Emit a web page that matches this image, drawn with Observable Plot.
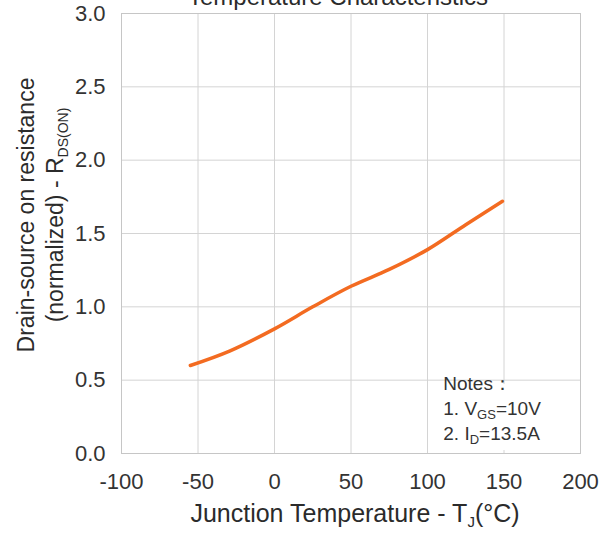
<!DOCTYPE html>
<html>
<head>
<meta charset="utf-8">
<script src="https://cdn.jsdelivr.net/npm/d3@7"></script>
<script src="https://cdn.jsdelivr.net/npm/@observablehq/plot@0.6"></script>
<style>
  html, body { margin: 0; padding: 0; background: #fff; }
  #chart { width: 613px; height: 536px; overflow: hidden; }
</style>
</head>
<body>
<div id="chart"></div>
<script>
// Junction temperature (°C) and normalized R_DS(ON)
const tempC   = [-55, -29, 0, 25, 50, 75, 100, 125, 149];
const rdsNorm = [0.60, 0.70, 0.85, 1.00, 1.14, 1.255, 1.39, 1.56, 1.72];

const xTicks = [-100, -50, 0, 50, 100, 150, 200];
const yTicks = [0, 0.5, 1.0, 1.5, 2.0, 2.5, 3.0];

const titleText = "Temperature Characteristics";
const xLabelMain = "Junction Temperature - T";
const xLabelSub = "J";
const xLabelEnd = "(°C)";
const yLabelLine1 = "Drain-source on resistance";
const yLabelLine2 = "(normalized) - R";
const yLabelSub = "DS(ON)";
const notesHead = "Notes：";
const notes = [
  {pre: "1. V", sub: "GS", post: "=10V"},
  {pre: "2. I", sub: "D", post: "=13.5A"}
];

const rows = tempC.map((t, i) => ({t, r: rdsNorm[i]}));
const FONT = "'Liberation Sans', Arial, sans-serif";

const plot = Plot.plot({
  width: 613,
  height: 536,
  marginTop: 13,
  marginLeft: 121,
  marginRight: 33,
  marginBottom: 83,
  style: {fontFamily: FONT, fontSize: "22px", color: "#333", background: "#fff", overflow: "visible"},
  x: {domain: [-100, 200], label: null},
  y: {domain: [0, 3], label: null},
  marks: [
    Plot.gridX(xTicks, {stroke: "#d4d4d4", strokeOpacity: 1}),
    Plot.gridY(yTicks, {stroke: "#d4d4d4", strokeOpacity: 1}),
    Plot.rect([0], {x1: 104, x2: 199, y1: 0.02, y2: 0.47, fill: "white"}),
    Plot.frame({stroke: "#c6c6c6"}),
    Plot.axisX(xTicks, {tickSize: 0, tickPadding: 20, fontSize: 22, label: null, tickFormat: d => String(d)}),
    Plot.axisY(yTicks, {tickSize: 0, tickPadding: 16, fontSize: 22, label: null, tickFormat: d => d.toFixed(1)}),
    Plot.line(rows, {x: "t", y: "r", stroke: "#f36b21", strokeWidth: 3.5, curve: "catmull-rom"})
  ]
});

document.getElementById("chart").appendChild(plot);

const svg = d3.select(plot);
const sx = plot.scale("x"), sy = plot.scale("y");
const ink = "#2b2b2b";

// Title (cut off at top edge as in reference)
svg.append("text")
  .attr("x", 338).attr("y", 5)
  .attr("text-anchor", "middle")
  .attr("font-family", FONT).attr("font-size", 24).attr("fill", ink)
  .text(titleText);

// X axis label
const xl = svg.append("text")
  .attr("x", 355).attr("y", 522)
  .attr("text-anchor", "middle")
  .attr("font-family", FONT).attr("font-size", 25).attr("fill", ink);
xl.append("tspan").text(xLabelMain);
xl.append("tspan").attr("font-size", 15).attr("dy", 5).text(xLabelSub);
xl.append("tspan").attr("dy", -5).text(xLabelEnd);

// Y axis label (two lines)
svg.append("text")
  .attr("transform", "translate(34,215) rotate(-90)")
  .attr("text-anchor", "middle")
  .attr("font-family", FONT).attr("font-size", 23).attr("fill", ink)
  .text(yLabelLine1);
const yl = svg.append("text")
  .attr("transform", "translate(63,215) rotate(-90)")
  .attr("text-anchor", "middle")
  .attr("font-family", FONT).attr("font-size", 23).attr("fill", ink);
yl.append("tspan").text(yLabelLine2);
yl.append("tspan").attr("font-size", 14).attr("dy", 5).text(yLabelSub);

// Notes
const nx = sx.apply(110) + 1;
const ny0 = sy.apply(0.5) + 10;
svg.append("text")
  .attr("x", nx).attr("y", ny0)
  .attr("text-anchor", "start")
  .attr("font-family", FONT).attr("font-size", 19).attr("fill", "#333")
  .text(notesHead);
notes.forEach((n, i) => {
  const t = svg.append("text")
    .attr("x", nx).attr("y", ny0 + 25 * (i + 1))
    .attr("text-anchor", "start")
    .attr("font-family", FONT).attr("font-size", 19).attr("fill", "#333");
  t.append("tspan").text(n.pre);
  t.append("tspan").attr("font-size", 13).attr("dy", 4).text(n.sub);
  t.append("tspan").attr("dy", -4).text(n.post);
});
</script>
</body>
</html>
